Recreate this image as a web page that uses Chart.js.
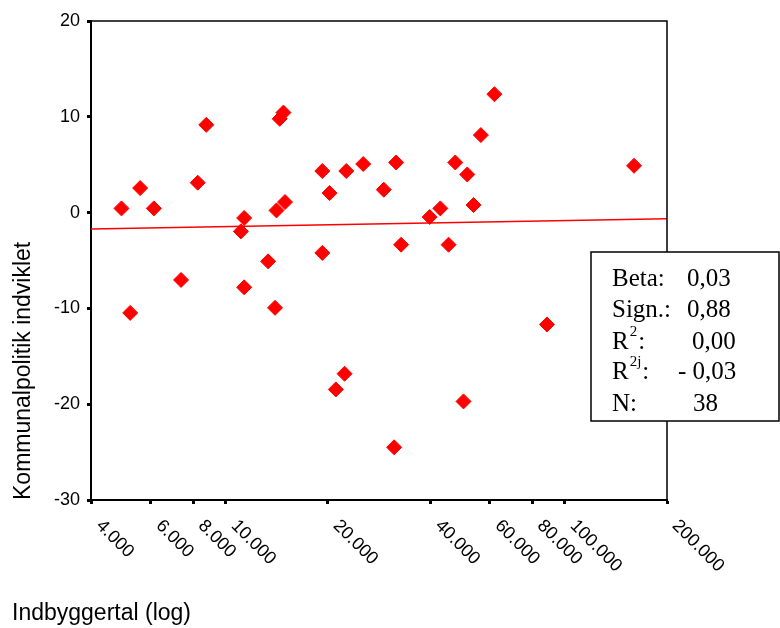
<!DOCTYPE html>
<html>
<head>
<meta charset="utf-8">
<script src="https://cdn.jsdelivr.net/npm/chart.js@4.4.1/dist/chart.umd.min.js"></script>
<style>
  html, body { margin: 0; padding: 0; background: #ffffff; }
  canvas { display: block; }
</style>
</head>
<body>
<canvas id="c" width="780" height="628"></canvas>
<script>
// Indbyggertal (population) per municipality
const popX = [4920, 5220, 5585, 6130, 7373, 8258, 8752, 11070, 11320, 11320,
  13320, 13960, 14100, 14940, 14410, 14780, 19250, 20220, 22650, 25410,
  31770, 29220, 47480, 51500, 53750, 42900, 39900, 19250, 32870, 45380,
  22390, 21100, 31350, 50220, 61940, 56490, 159900, 88510];
// Kommunalpolitik indviklet score
const scoreY = [0.44, -10.47, 2.56, 0.44, -7.03, 3.12, 9.16, -1.96, -0.56, -7.80,
  -5.09, -9.94, 0.23, 1.10, 9.79, 10.44, 4.34, 2.04, 4.34, 5.07,
  5.23, 2.39, 5.23, 3.98, 0.79, 0.44, -0.46, -4.21, -3.35, -3.35,
  -16.82, -18.46, -24.5, -19.71, 12.36, 8.09, 4.89, -11.68];
// Regression line end points
const fitX = [4000, 200000];
const fitY = [-1.72, -0.65];
// Axis ticks
const xTicks = [4000, 6000, 8000, 10000, 20000, 40000, 60000, 80000, 100000, 200000];
const xTickLabels = ['4.000', '6.000', '8.000', '10.000', '20.000', '40.000', '60.000', '80.000', '100.000', '200.000'];
const yTicks = [-30, -20, -10, 0, 10, 20];
// Statistics box
const statLabels = ['Beta:', 'Sign.:', 'R', 'R', 'N:'];
const statSups = ['', '', '2', '2j', ''];
const statValues = ['0,03', '0,88', '0,00', '- 0,03', '38'];

const SANS = '"Liberation Sans", Arial, sans-serif';
const SERIF = '"Liberation Serif", "Times New Roman", serif';

const points = popX.map((x, i) => ({ x: x, y: scoreY[i] }));
const fitLine = fitX.map((x, i) => ({ x: x, y: fitY[i] }));

const decor = {
  id: 'decor',
  afterDraw(chart) {
    const ctx = chart.ctx;
    const a = chart.chartArea;
    const xs = chart.scales.x;
    ctx.save();
    // frame (top / right)
    ctx.strokeStyle = '#000';
    ctx.lineWidth = 1.5;
    ctx.beginPath();
    ctx.moveTo(a.left, a.top);
    ctx.lineTo(a.right, a.top);
    ctx.lineTo(a.right, a.bottom);
    ctx.stroke();

    // rotated x tick labels
    ctx.fillStyle = '#000';
    ctx.font = '18px ' + SANS;
    ctx.textAlign = 'left';
    ctx.textBaseline = 'middle';
    xTicks.forEach((v, i) => {
      const px = xs.getPixelForValue(v);
      ctx.save();
      ctx.translate(px + 8, a.bottom + 23);
      ctx.rotate(Math.PI / 4);
      ctx.fillText(xTickLabels[i], 0, 0);
      ctx.restore();
    });

    // axis titles
    ctx.font = '23px ' + SANS;
    ctx.textBaseline = 'alphabetic';
    ctx.save();
    ctx.translate(30, a.bottom);
    ctx.rotate(-Math.PI / 2);
    ctx.textAlign = 'left';
    ctx.fillText('Kommunalpolitik indviklet', 0, 0);
    ctx.restore();
    ctx.textAlign = 'left';
    ctx.fillText('Indbyggertal (log)', 12, 620);

    // statistics box
    const bx = 591, by = 252, bw = 188, bh = 169;
    ctx.fillStyle = '#fff';
    ctx.fillRect(bx, by, bw, bh);
    ctx.strokeStyle = '#000';
    ctx.lineWidth = 1.5;
    ctx.strokeRect(bx, by, bw, bh);
    ctx.fillStyle = '#000';
    const baselines = [286, 317, 349, 379, 411];
    const valueX = [687, 687, 692, 678, 693];
    statLabels.forEach((lab, i) => {
      const y = baselines[i];
      ctx.font = '25px ' + SERIF;
      ctx.fillText(lab, 612, y);
      let cx = 612 + ctx.measureText(lab).width;
      if (statSups[i]) {
        ctx.font = '15px ' + SERIF;
        ctx.fillText(statSups[i], cx + 1, y - 13);
        cx += 1 + ctx.measureText(statSups[i]).width;
        ctx.font = '25px ' + SERIF;
        ctx.fillText(':', cx + 1, y);
      }
      ctx.font = '25px ' + SERIF;
      ctx.fillText(statValues[i], valueX[i], y);
    });
    ctx.restore();
  }
};

new Chart(document.getElementById('c'), {
  type: 'scatter',
  data: {
    datasets: [
      {
        data: points,
        pointStyle: 'rectRot',
        pointRadius: 7.5,
        pointHoverRadius: 7.5,
        backgroundColor: '#ff0000',
        borderColor: '#ff0000',
        borderWidth: 1,
        order: 0
      },
      {
        type: 'line',
        data: fitLine,
        showLine: true,
        pointRadius: 0,
        borderColor: '#ff0000',
        borderWidth: 1.5,
        fill: false,
        order: 1
      }
    ]
  },
  options: {
    responsive: false,
    animation: false,
    devicePixelRatio: 1,
    layout: { padding: { left: 0, top: 21, right: 113, bottom: 0 } },
    plugins: { legend: { display: false }, tooltip: { enabled: false }, title: { display: false } },
    scales: {
      x: {
        type: 'logarithmic',
        position: 'bottom',
        min: 4000,
        max: 200000,
        afterBuildTicks: (s) => { s.ticks = xTicks.map(v => ({ value: v })); },
        afterFit: (s) => { s.height = 128; },
        ticks: { display: false },
        grid: { drawOnChartArea: false, drawTicks: true, tickLength: 4, tickWidth: 3, color: '#000' },
        border: { display: true, color: '#000', width: 2 }
      },
      y: {
        min: -30,
        max: 20,
        afterBuildTicks: (s) => { s.ticks = yTicks.map(v => ({ value: v })); },
        afterFit: (s) => { s.width = 91; },
        ticks: { color: '#000', font: { family: SANS, size: 18 }, padding: 7 },
        grid: { drawOnChartArea: false, drawTicks: true, tickLength: 4, tickWidth: 3, color: '#000' },
        border: { display: true, color: '#000', width: 2 }
      }
    }
  },
  plugins: [decor]
});
</script>
</body>
</html>
